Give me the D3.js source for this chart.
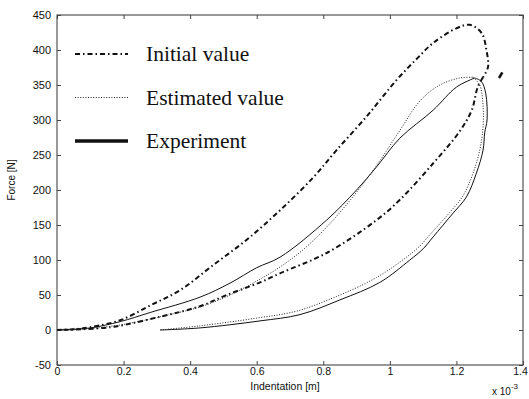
<!DOCTYPE html>
<html>
<head>
<meta charset="utf-8">
<script src="https://cdn.jsdelivr.net/npm/d3@7"></script>
<style>
  body { margin: 0; background: #fff; }
  svg text { fill: #111; }
</style>
</head>
<body>
<div id="chart"></div>
<script>
// indentation values are in units of 1e-3 m (axis multiplier), force in N
var xTicks = [0, 0.2, 0.4, 0.6, 0.8, 1, 1.2, 1.4];
var yTicks = [-50, 0, 50, 100, 150, 200, 250, 300, 350, 400, 450];

var initialLoad = [[0,0],[0.05,1],[0.1,4],[0.19,14],[0.28,35],[0.37,57],[0.47,93],[0.57,129],[0.67,171],[0.77,218],
  [0.84,257],[0.93,305],[1.02,357],[1.08,387],[1.13,410],[1.2,431],[1.24,436],[1.276,424],[1.29,400],[1.295,376],[1.28,361]];
var initialUnload = [[1.28,361],[1.264,347],[1.246,314],[1.21,284],[1.13,238],[1.03,186],[0.96,157],[0.81,110],
  [0.67,81],[0.61,68],[0.51,50],[0.43,34],[0.31,19],[0.16,4],[0,0]];
var initialStray = [[1.328,360],[1.338,368]];

var estimatedLoad = [[0,0],[0.1,2],[0.2,8],[0.31,19],[0.43,33],[0.52,50],[0.6,70],[0.67,90],[0.74,115],[0.81,147],
  [0.88,185],[0.96,235],[1.03,285],[1.09,327],[1.15,350],[1.21,360],[1.25,361]];
var estimatedUnload = [[1.25,361],[1.27,350],[1.28,320],[1.28,290],[1.27,257],[1.25,224],[1.22,192],[1.18,168],
  [1.12,136],[1.09,120],[1.05,104],[0.96,75],[0.84,48],[0.72,27],[0.6,17],[0.43,6],[0.31,0]];

var experimentLoad = [[0,0],[0.1,3],[0.19,12],[0.28,25],[0.43,47],[0.52,67],[0.6,89],[0.67,104],[0.81,157],
  [0.9,200],[0.96,233],[1.03,274],[1.13,314],[1.2,347],[1.255,360]];
var experimentUnload = [[1.255,360],[1.275,355],[1.288,338],[1.292,300],[1.285,282],[1.28,257],[1.26,224],[1.23,190],
  [1.19,167],[1.13,133],[1.1,116],[1.06,100],[0.97,68],[0.85,43],[0.73,22],[0.61,13],[0.43,3],[0.31,0]];

var legendLabels = ["Initial value", "Estimated value", "Experiment"];

var width = 529, height = 399;
var margin = {left: 57, right: 6, top: 15, bottom: 34};

var svg = d3.select("#chart").append("svg").attr("width", width).attr("height", height);

var x = d3.scaleLinear().domain([0, 1.4]).range([margin.left, width - margin.right]);
var y = d3.scaleLinear().domain([-50, 450]).range([height - margin.bottom, margin.top]);

// box
svg.append("rect")
    .attr("x", x(0)).attr("y", y(450))
    .attr("width", x(1.4) - x(0)).attr("height", y(-50) - y(450))
    .attr("fill", "none").attr("stroke", "#333").attr("stroke-width", 1);

// axes, matlab style ticks inside
var fmt = function (d) { return d; };
svg.append("g").attr("class", "xax").attr("transform", "translate(0," + y(-50) + ")")
    .call(d3.axisBottom(x).tickValues(xTicks).tickSize(-4).tickPadding(3).tickFormat(fmt))
    .call(function (g) { g.select(".domain").remove(); });
svg.append("g").attr("transform", "translate(0," + y(450) + ")")
    .call(d3.axisTop(x).tickValues(xTicks).tickSize(-4).tickFormat(""))
    .call(function (g) { g.select(".domain").remove(); });
svg.append("g").attr("transform", "translate(" + x(0) + ",0)")
    .call(d3.axisLeft(y).tickValues(yTicks).tickSize(-4).tickPadding(6).tickFormat(fmt))
    .call(function (g) { g.select(".domain").remove(); });
svg.append("g").attr("transform", "translate(" + x(1.4) + ",0)")
    .call(d3.axisRight(y).tickValues(yTicks).tickSize(-4).tickFormat(""))
    .call(function (g) { g.select(".domain").remove(); });

svg.selectAll(".tick line").attr("stroke", "#444");
svg.selectAll(".tick text").attr("font-family", "Arial, 'Liberation Sans', sans-serif").attr("font-size", 11).attr("fill", "#111");
svg.selectAll(".xax .tick text").attr("font-size", 10.5)
    .attr("dx", function (d) { return d === 1.4 ? -3 : 0; });

// axis titles
svg.append("text")
    .attr("x", (x(0) + x(1.4)) / 2 - 5).attr("y", 390)
    .attr("text-anchor", "middle")
    .attr("font-family", "Arial, 'Liberation Sans', sans-serif").attr("font-size", 10.5)
    .text("Indentation [m]");
svg.append("text")
    .attr("transform", "translate(15," + (y(200) - 10) + ") rotate(-90)")
    .attr("text-anchor", "middle")
    .attr("font-family", "Arial, 'Liberation Sans', sans-serif").attr("font-size", 10)
    .text("Force [N]");
var mult = svg.append("text")
    .attr("x", 492).attr("y", 395)
    .attr("font-family", "Arial, 'Liberation Sans', sans-serif").attr("font-size", 10);
mult.append("tspan").text("x 10");
mult.append("tspan").attr("dy", -6).attr("font-size", 8).text("-3");

// curves
var line = d3.line()
    .x(function (d) { return x(d[0]); })
    .y(function (d) { return y(d[1]); })
    .curve(d3.curveCatmullRom.alpha(0.5));

var styles = {
    initial: {w: 2, dash: "5,3,1.5,3", color: "#111"},
    estimated: {w: 1, dash: "1,1.6", color: "#222"},
    experiment: {w: 1, dash: null, color: "#111"}
};

function drawCurve(data, st) {
    svg.append("path")
        .attr("d", line(data))
        .attr("fill", "none")
        .attr("stroke", st.color)
        .attr("stroke-width", st.w)
        .attr("stroke-dasharray", st.dash);
}
drawCurve(initialLoad, styles.initial);
drawCurve(initialUnload, styles.initial);
drawCurve(initialStray, {w: 2.5, dash: null, color: "#111"});
drawCurve(experimentLoad, styles.experiment);
drawCurve(experimentUnload, styles.experiment);
drawCurve(estimatedLoad, styles.estimated);
drawCurve(estimatedUnload, styles.estimated);

// legend
var legStyles = [styles.initial, styles.estimated, {w: 3.5, dash: null, color: "#111"}];
var legend = svg.append("g").selectAll("g")
    .data(legendLabels)
    .enter()
    .append("g")
    .attr("transform", function (d, i) { return "translate(75," + (54 + i * 43.5) + ")"; });
legend.append("line")
    .attr("x1", 0).attr("x2", 53).attr("y1", 0).attr("y2", 0)
    .attr("stroke", function (d, i) { return legStyles[i].color; })
    .attr("stroke-width", function (d, i) { return legStyles[i].w; })
    .attr("stroke-dasharray", function (d, i) { return legStyles[i].dash; });
legend.append("text")
    .attr("x", 71).attr("y", 7)
    .attr("font-family", "'Liberation Serif', 'Times New Roman', serif")
    .attr("font-size", 21.5)
    .text(function (d) { return d; });
</script>
</body>
</html>
